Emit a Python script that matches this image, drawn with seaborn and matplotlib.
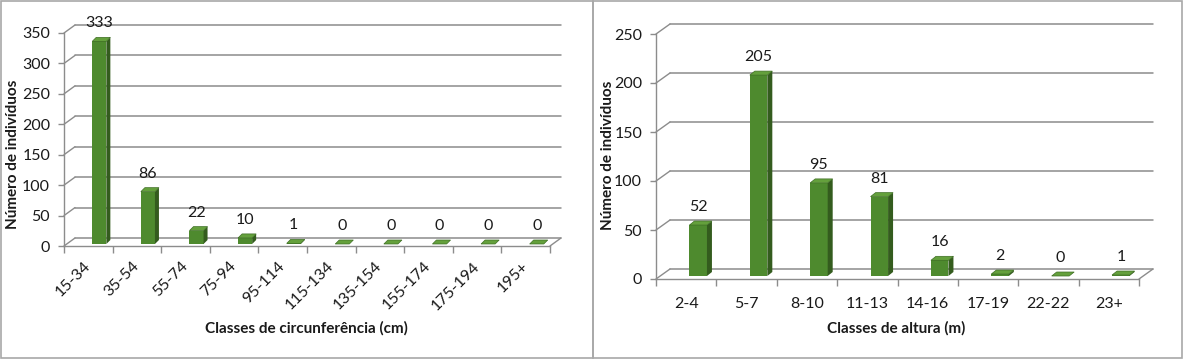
import numpy as np
import pandas as pd
import matplotlib
matplotlib.use("Agg")
import matplotlib.pyplot as plt
import seaborn as sns
from matplotlib.transforms import ScaledTranslation, IdentityTransform
from matplotlib.patches import Polygon, Rectangle
from matplotlib.lines import Line2D

# ---------------- data ----------------
circ_classes = ["15-34", "35-54", "55-74", "75-94", "95-114", "115-134",
                "135-154", "155-174", "175-194", "195+"]
circ_counts = [333, 86, 22, 10, 1, 0, 0, 0, 0, 0]
circ_yticks = [0, 50, 100, 150, 200, 250, 300, 350]

alt_classes = ["2-4", "5-7", "8-10", "11-13", "14-16", "17-19", "22-22", "23+"]
alt_counts = [52, 205, 95, 81, 16, 2, 0, 1]
alt_yticks = [0, 50, 100, 150, 200, 250]

ylabel_text = "Número de indivíduos"
circ_xlabel = "Classes de circunferência (cm)"
alt_xlabel = "Classes de altura (m)"

# ---------------- style ----------------
sns.set_theme(style="white")
plt.rcParams["font.family"] = ["Lato", "DejaVu Sans"]

FRONT = "#4E8A2E"
SIDE = "#345C1E"
TOP = "#64A03C"
GRID = "#8C8C8C"
TXT = "#1A1A1A"
BORDER = "#A8A8A8"
TICK_FS = 11.5
TITLE_FS = 11

W, H = 1184, 361
DPI = 100
fig = plt.figure(figsize=(W / DPI, H / DPI), dpi=DPI)
fig.patch.set_facecolor("white")


def box(x0, y0, x1, y1):
    return [x0 / W, 1 - y1 / H, (x1 - x0) / W, (y1 - y0) / H]


panels = [
    dict(rect=(64, 33, 550, 246), depth=(11, 8), shift=(11, 2), bdepth=(4, 4),
         cats=circ_classes, vals=circ_counts, yticks=circ_yticks, rotate=True),
    dict(rect=(656, 34, 1139, 279), depth=(14, 10), shift=(12, 3), bdepth=(5, 4),
         cats=alt_classes, vals=alt_counts, yticks=alt_yticks, rotate=False),
]

axes = []
for cfg in panels:
    ax = fig.add_axes(box(*cfg["rect"]))
    ax.set_facecolor("none")
    df = pd.DataFrame({"classe": cfg["cats"], "n": cfg["vals"]})
    sns.barplot(data=df, x="classe", y="n", ax=ax, color=FRONT, saturation=1,
                width=0.29, linewidth=0, edgecolor="none", zorder=3)
    n = len(cfg["cats"])
    ax.set_xlim(-0.5, n - 0.5)
    ax.set_ylim(0, cfg["yticks"][-1])
    ax.set_yticks(cfg["yticks"])
    ax.set_xlabel("")
    ax.set_ylabel("")
    ax.set_xticks(np.arange(-0.5, n, 1.0), minor=True)
    for s in ("top", "right"):
        ax.spines[s].set_visible(False)
    for s in ("left", "bottom"):
        ax.spines[s].set_color(GRID)
        ax.spines[s].set_linewidth(1.0)
    ax.tick_params(axis="x", which="major", length=0, pad=13.0,
                   labelsize=TICK_FS, labelcolor=TXT, bottom=True)
    ax.tick_params(axis="x", which="minor", length=5, width=1, color=GRID,
                   direction="out", bottom=True)
    ax.tick_params(axis="y", which="major", length=4, width=1, color=GRID,
                   direction="out", left=True, pad=6, labelsize=TICK_FS, labelcolor=TXT)
    if cfg["rotate"]:
        plt.setp(ax.get_xticklabels(), rotation=45, ha="right", va="center",
                 rotation_mode="anchor")
    else:
        ax.tick_params(axis="x", which="major", pad=13)

    sx, sy = cfg["shift"]
    off = ScaledTranslation(sx / DPI, sy / DPI, fig.dpi_scale_trans)
    for p in ax.patches:
        p.set_transform(ax.transData + off)

    for p, v in zip(ax.patches, cfg["vals"]):
        ax.annotate(str(v), xy=(p.get_x() + p.get_width() / 2, v),
                    xytext=(sx, sy + 18), textcoords="offset pixels",
                    ha="center", va="center", fontsize=TICK_FS, color=TXT,
                    annotation_clip=False)
    axes.append((ax, cfg))

fig.canvas.draw()
renderer = fig.canvas.get_renderer()
ident = IdentityTransform()

for ax, cfg in axes:
    dx, dy = cfg["depth"]
    bdx, bdy = cfg["bdepth"]
    # back wall grid lines + stubs
    for yt in cfg["yticks"]:
        x0, y0 = ax.transData.transform((-0.5, yt))
        x1, _ = ax.transData.transform((len(cfg["cats"]) - 0.5, yt))
        ax.add_line(Line2D([x0 + dx, x1 + dx], [y0 + dy, y0 + dy], transform=ident,
                           color=GRID, lw=1.1, zorder=0.5, clip_on=False))
        ax.add_line(Line2D([x0, x0 + dx], [y0, y0 + dy], transform=ident,
                           color=GRID, lw=1.0, zorder=0.5, clip_on=False))
    # floor right edge
    xr, yb = ax.transData.transform((len(cfg["cats"]) - 0.5, 0))
    ax.add_line(Line2D([xr, xr + dx], [yb, yb + dy], transform=ident,
                       color=GRID, lw=1.0, zorder=0.5, clip_on=False))
    # 3D faces of the columns
    for p in ax.patches[:len(cfg["vals"])]:
        bb = p.get_window_extent(renderer)
        bx0, by0, bx1, by1 = bb.x0, bb.y0, bb.x1, bb.y1
        side = [(bx1, by0), (bx1, by1), (bx1 + bdx, by1 + bdy), (bx1 + bdx, by0 + bdy)]
        top = [(bx0, by1), (bx1, by1), (bx1 + bdx, by1 + bdy), (bx0 + bdx, by1 + bdy)]
        ax.add_patch(Polygon(side, closed=True, transform=ident, fc=SIDE, ec="none",
                             zorder=3, clip_on=False))
        ax.add_patch(Polygon(top, closed=True, transform=ident, fc=TOP, ec="#3E6E24",
                             lw=0.5, zorder=3.1, clip_on=False))

# axis titles
fig.text(13 / W, 1 - 154 / H, ylabel_text, rotation=90, ha="center", va="center",
         fontsize=TITLE_FS, fontweight="bold", color=TXT)
fig.text(608 / W, 1 - 155 / H, ylabel_text, rotation=90, ha="center", va="center",
         fontsize=TITLE_FS, fontweight="bold", color=TXT)
fig.text(306 / W, 1 - 328 / H, circ_xlabel, ha="center", va="center",
         fontsize=TITLE_FS, fontweight="bold", color=TXT)
fig.text(896 / W, 1 - 328 / H, alt_xlabel, ha="center", va="center",
         fontsize=TITLE_FS, fontweight="bold", color=TXT)

# panel borders
fig.add_artist(Rectangle(box(1, 1, 593, 358)[:2], 592 / W, 357 / H,
                         transform=fig.transFigure, fill=False, ec=BORDER, lw=1.2))
fig.add_artist(Rectangle(box(593, 1, 1182, 358)[:2], 589 / W, 357 / H,
                         transform=fig.transFigure, fill=False, ec=BORDER, lw=1.2))

fig.savefig("out.png", dpi=DPI, facecolor="white")
